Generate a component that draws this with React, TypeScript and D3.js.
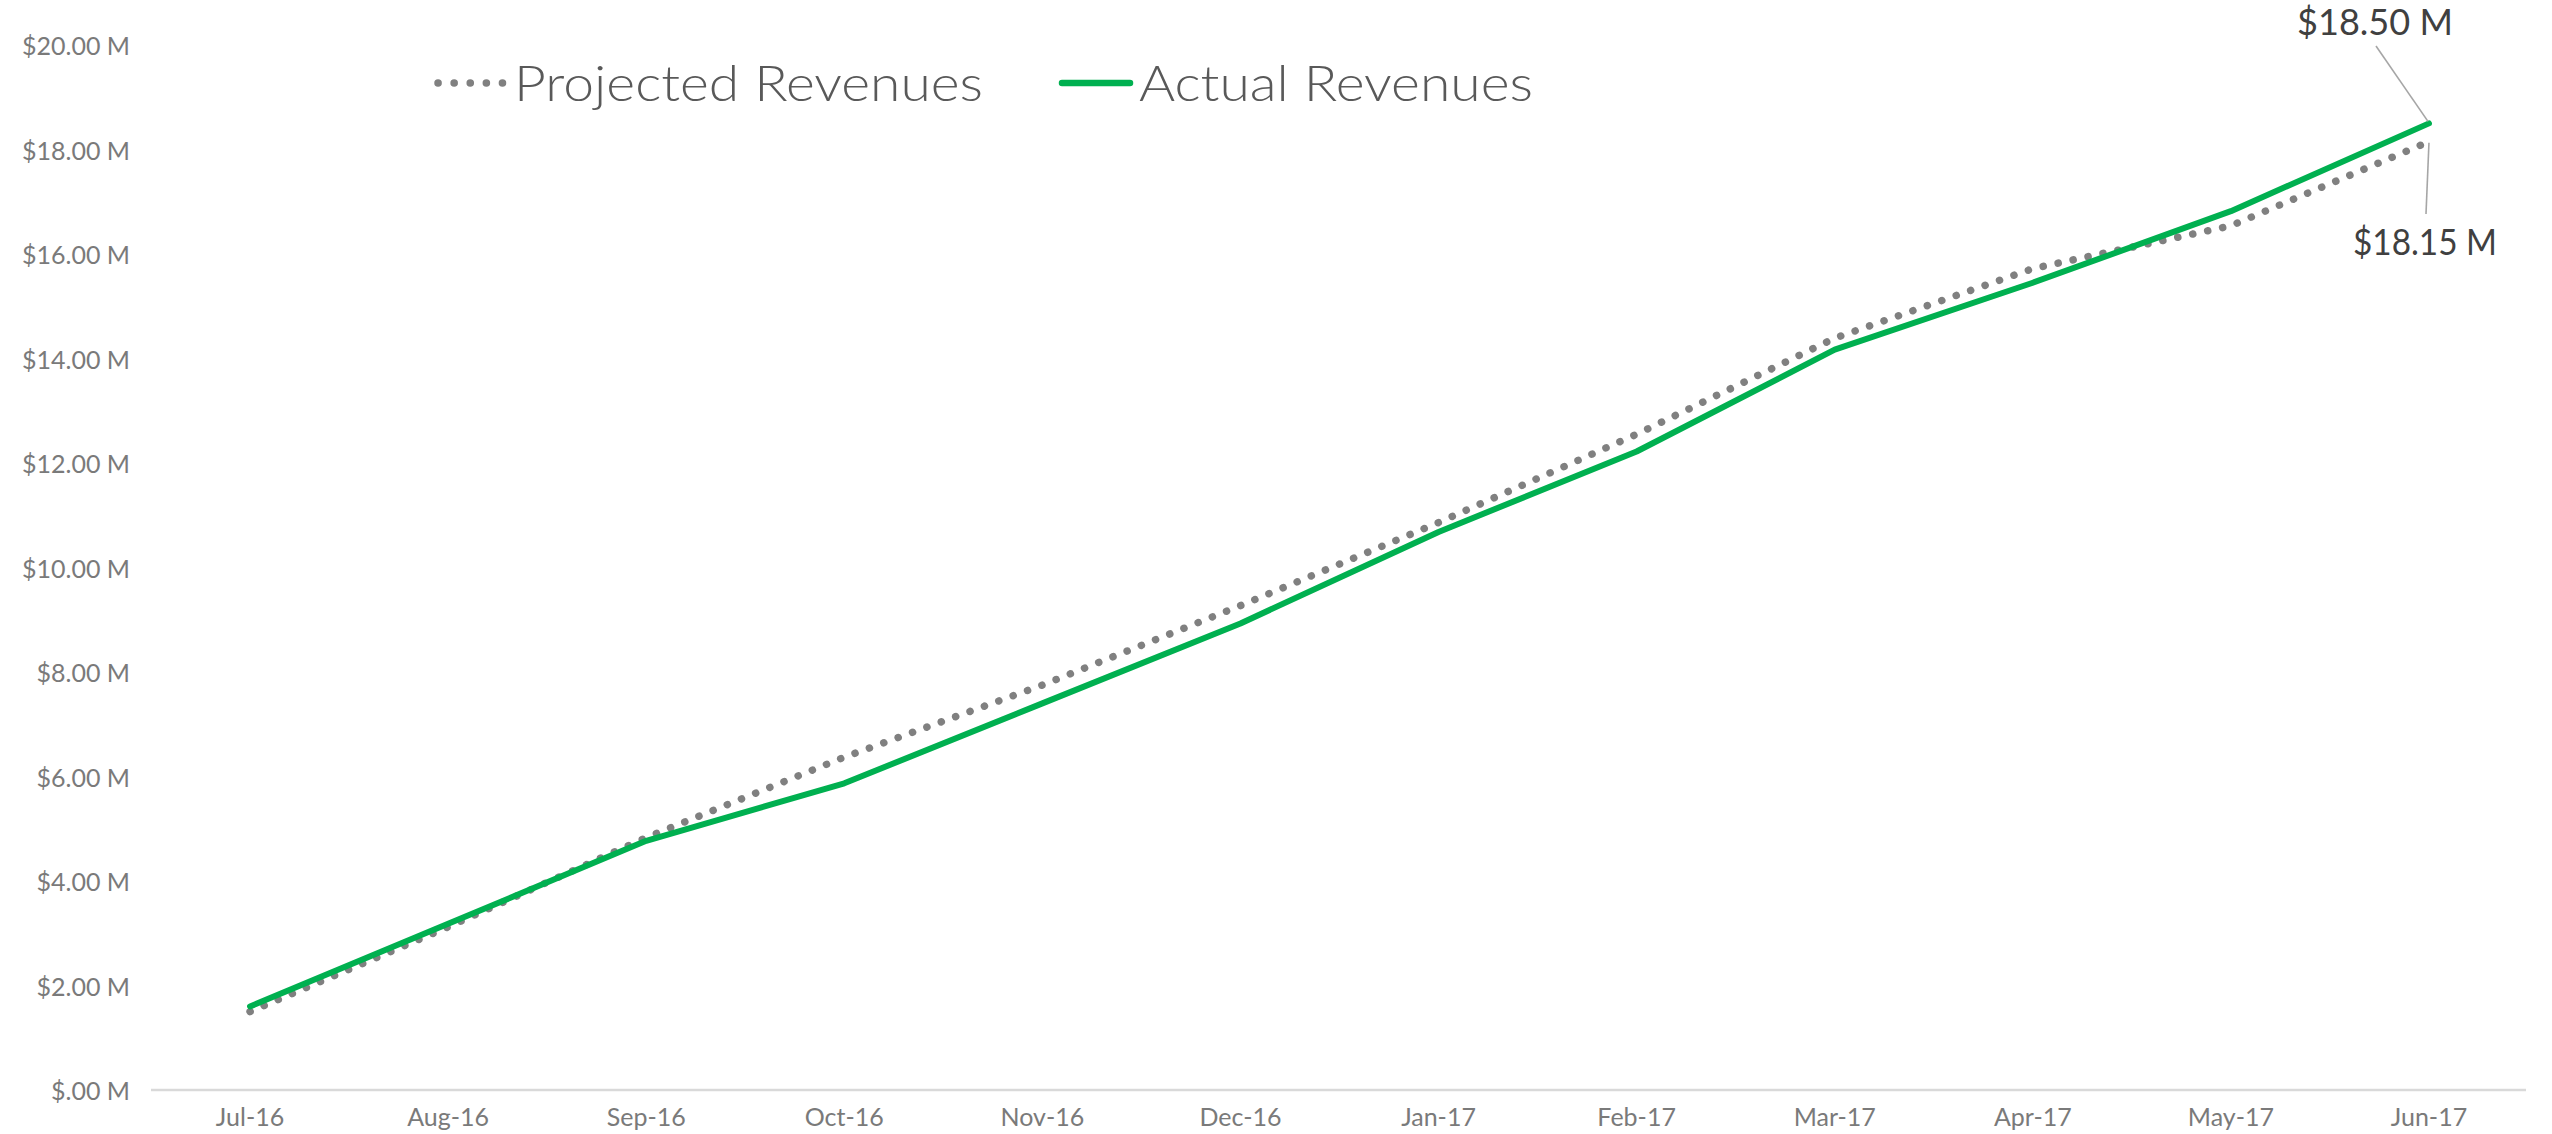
import React from "react";
import * as d3 from "d3";

const months = ["Jul-16","Aug-16","Sep-16","Oct-16","Nov-16","Dec-16","Jan-17","Feb-17","Mar-17","Apr-17","May-17","Jun-17"];
const actualRevenues = [1.60, 3.18, 4.77, 5.87, 7.40, 8.93, 10.68, 12.22, 14.17, 15.45, 16.82, 18.50];
const projectedRevenues = [1.50, 3.12, 4.83, 6.37, 7.75, 9.27, 10.86, 12.55, 14.39, 15.72, 16.54, 18.15];
const yTicks = [0, 2, 4, 6, 8, 10, 12, 14, 16, 18, 20];
const seriesNames = ["Projected Revenues", "Actual Revenues"];

const W = 2552, H = 1134;
const FONT = "Lato, 'Open Sans', 'DejaVu Sans', sans-serif";

export default function App() {
  const x = d3.scalePoint<string>().domain(months).range([151, 2528]).padding(0.5);
  const y = d3.scaleLinear().domain([0, 20]).range([1090, 45]);
  const line = d3.line<number>().x((_, i) => x(months[i]) as number).y(d => y(d)).curve(d3.curveLinear);
  const fmt = (v: number) => (v === 0 ? "$.00 M" : `$${v.toFixed(2)} M`);

  const lastI = months.length - 1;
  const ax = x(months[lastI]) as number;
  const ayA = y(actualRevenues[lastI]);
  const ayP = y(projectedRevenues[lastI]);

  return (
    <svg width={W} height={H} style={{ position: "absolute", left: 0, top: 0, background: "#fff" }} fontFamily={FONT}>
      {/* axis baseline */}
      <line x1={151} x2={2526} y1={y(0)} y2={y(0)} stroke="#d9d9d9" strokeWidth={2.5} />
      {/* y tick labels */}
      {yTicks.map(t => (
        <text key={t} x={130} y={y(t)} textAnchor="end" dominantBaseline="central" fontSize={25} fill="#7a7a7a">
          {fmt(t)}
        </text>
      ))}
      {/* x tick labels */}
      {months.map(m => (
        <text key={m} x={x(m) as number} y={1116} textAnchor="middle" dominantBaseline="central" fontSize={25} fill="#7a7a7a">
          {m}
        </text>
      ))}
      {/* projected dotted */}
      <path d={line(projectedRevenues) || ""} fill="none" stroke="#808080" strokeWidth={7.5} strokeLinecap="round" strokeDasharray="0.1 15.2" />
      {/* actual */}
      <path d={line(actualRevenues) || ""} fill="none" stroke="#00b050" strokeWidth={6} strokeLinecap="round" strokeLinejoin="round" />

      {/* legend */}
      <line x1={438} x2={504} y1={83} y2={83} stroke="#808080" strokeWidth={7.5} strokeLinecap="round" strokeDasharray="0.1 16" />
      <text x={514} y={101} fontSize={50} fontWeight={300} fill="#595959" textLength={469} lengthAdjust="spacingAndGlyphs">{seriesNames[0]}</text>
      <line x1={1062} x2={1130} y1={83} y2={83} stroke="#00b050" strokeWidth={6.5} strokeLinecap="round" />
      <text x={1139} y={101} fontSize={50} fontWeight={300} fill="#595959" textLength={394} lengthAdjust="spacingAndGlyphs">{seriesNames[1]}</text>

      {/* end labels with leaders */}
      <line x1={2376} y1={46} x2={ax - 1} y2={ayA - 2} stroke="#a6a6a6" strokeWidth={1.6} />
      <text x={2375} y={35} textAnchor="middle" fontSize={36} fill="#404040" textLength={156} lengthAdjust="spacingAndGlyphs">
        {fmt(actualRevenues[lastI])}
      </text>
      <line x1={ax} y1={ayP + 1} x2={2426} y2={214} stroke="#a6a6a6" strokeWidth={1.6} />
      <text x={2425} y={255} textAnchor="middle" fontSize={36} fill="#404040" textLength={144} lengthAdjust="spacingAndGlyphs">
        {fmt(projectedRevenues[lastI])}
      </text>
    </svg>
  );
}
